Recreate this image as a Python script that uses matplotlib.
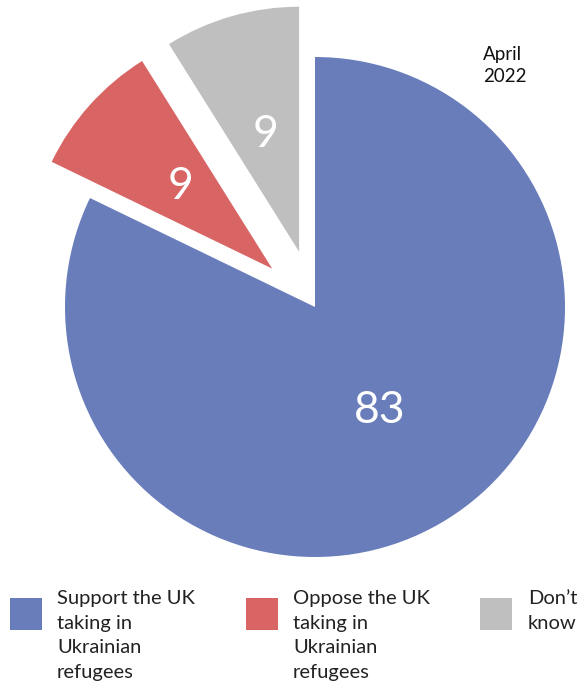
import matplotlib.pyplot as plt
from matplotlib.patches import Rectangle

# data
categories = ["Support the UK\ntaking in\nUkrainian\nrefugees",
              "Oppose the UK\ntaking in\nUkrainian\nrefugees",
              "Don\u2019t\nknow"]
values = [83, 9, 9]
colors = ["#687DBA", "#D96464", "#BFBFBF"]
date_note = "April\n2022"

plt.rcParams['font.family'] = ['Lato', 'DejaVu Sans']

fig = plt.figure(figsize=(5.83, 6.88), dpi=100)
ax = fig.add_axes([0, 0, 1, 1])

radius = 250
center = (315, 381)
total = sum(values)

wedges, texts, autotexts = ax.pie(
    values,
    colors=colors,
    startangle=90,
    counterclock=False,
    radius=radius,
    center=center,
    explode=[0, 0.23 * radius, 0.23 * radius],
    autopct=lambda p: f"{round(p * total / 100)}",
    pctdistance=0.49,
    textprops=dict(color="white", fontsize=32),
    wedgeprops=dict(linewidth=0),
)
# pulled-out slices are drawn a touch smaller in the original
for w in wedges[1:]:
    w.set_radius(radius * 0.98)

# legend boxes along the bottom
box_x = [10, 246, 480]
text_x = [57, 293, 528]
for bx, tx, lab, col in zip(box_x, text_x, categories, colors):
    ax.add_patch(Rectangle((bx, 688 - 630), 32, 32, color=col, lw=0))
    ax.text(tx, 688 - 590, lab, fontsize=14.5, va="top", ha="left",
            color="#222222", linespacing=1.55)

ax.text(483, 688 - 46, date_note, fontsize=13.5, va="top", ha="left",
        color="#111111", linespacing=1.38)

ax.set_xlim(0, 583)
ax.set_ylim(0, 688)
ax.set_aspect("equal")
ax.axis("off")

fig.savefig("out.png", dpi=100)
